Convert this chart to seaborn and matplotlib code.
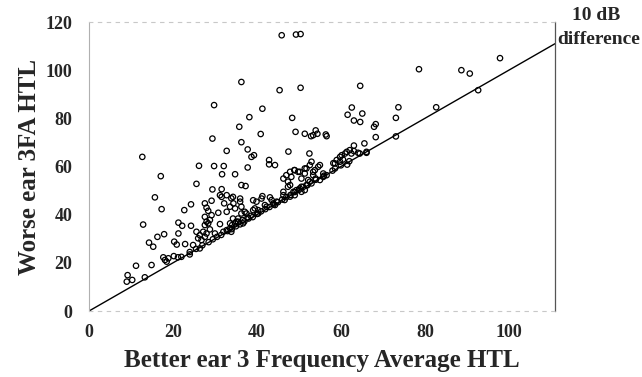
import numpy as np
import pandas as pd
import matplotlib
matplotlib.use("Agg")
import matplotlib.pyplot as plt
import seaborn as sns

# Better ear 3FA (x) and worse ear 3FA (y)
better_sparse = [12.7, 17.1, 25.6, 26.2, 29.8, 32.1, 31.7, 34.8, 29.8, 29.4, 32.8, 36.3, 35.8, 38.2,
                 41.3, 40.9, 36.3, 37.8, 39.3, 38.7, 42.9, 42.9, 37.8, 45.9, 49.3, 50.4, 45.4, 50.4,
                 48.4, 47.5, 52.5, 49.2, 51.4, 52.9, 53.4, 54.0, 54.4, 56.4, 56.6, 64.6, 62.6, 61.6,
                 65.1, 63.1, 64.6, 65.6, 63.1, 78.6, 88.7, 90.7, 97.9, 92.7, 82.7, 73.7, 73.1, 73.1,
                 68.3, 67.9, 68.3, 66.1, 64.5, 44.3]
worse_sparse = [64.0, 56.0, 52.8, 60.3, 60.2, 60.2, 56.8, 56.8, 85.5, 71.6, 66.5, 95.1, 76.5, 80.5,
                84.0, 73.5, 70.1, 67.1, 64.7, 64.0, 62.7, 60.9, 59.6, 114.5, 114.8, 115.0, 91.7, 92.7,
                80.2, 66.2, 65.4, 74.4, 73.6, 72.6, 73.0, 75.0, 73.6, 73.3, 72.6, 93.5, 84.5, 81.5,
                82.0, 79.1, 78.5, 69.6, 68.7, 100.4, 100.0, 98.6, 105.0, 91.7, 84.6, 84.6, 80.2, 72.5,
                77.6, 76.5, 72.2, 65.7, 65.4, 60.6]

better_low = [9.2, 9.0, 10.3, 13.3, 11.2, 14.9, 17.7, 18.1, 18.5, 18.9, 20.2, 21.2, 24.0, 14.3, 15.3,
              16.3, 17.9, 20.3, 20.9, 22.9, 24.8, 26.4, 21.3, 22.2, 24.3, 21.3, 12.9, 15.7, 17.3, 22.7,
              24.3, 27.6, 29.2, 28.0, 28.4, 30.8, 31.6, 29.4, 31.2, 36.3, 37.3, 31.6, 32.2, 33.9, 34.4,
              34.8, 36.0, 36.3, 36.3, 35.5, 36.6, 33.6, 32.8, 25.6, 26.4, 26.0, 26.8, 27.6, 27.2, 28.0,
              28.8, 27.6, 28.0, 28.4, 28.8, 27.6, 29.2, 31.2, 32.0, 32.8, 33.6, 34.1, 34.8, 35.5, 33.9,
              30.0, 32.8, 34.3, 36.0, 37.1, 37.5, 34.3, 35.1, 33.6, 36.7]
worse_low = [14.9, 12.2, 12.9, 14.0, 18.8, 19.1, 22.3, 21.2, 20.5, 21.9, 22.8, 22.3, 23.5, 28.4, 26.7,
             30.8, 31.9, 28.8, 27.6, 27.8, 27.4, 26.0, 36.7, 35.4, 35.4, 32.2, 35.9, 47.2, 42.3, 41.9,
             44.3, 44.7, 45.8, 42.9, 41.6, 40.8, 50.6, 50.5, 48.1, 52.3, 51.9, 47.4, 44.7, 46.8, 44.7,
             42.6, 45.4, 43.3, 40.5, 38.4, 37.8, 43.3, 41.2, 32.9, 31.5, 30.2, 29.5, 30.8, 32.9, 32.2,
             33.9, 35.7, 37.1, 36.4, 37.8, 39.1, 39.8, 36.1, 32.9, 33.6, 34.3, 35.7, 36.4, 37.1, 32.9,
             32.2, 48.1, 47.4, 46.7, 41.2, 40.5, 38.4, 37.1, 36.4, 36.4]

better_diag = [22.0, 24.0, 25.5, 27.0, 28.5, 29.5, 30.5, 31.5, 33.0, 34.0, 35.0, 36.0, 37.0, 38.0, 39.0,
               40.0, 41.0, 42.0, 43.0, 44.0, 45.0, 46.0, 47.0, 48.0, 49.0, 50.0, 51.0, 52.0, 54.0, 56.0,
               58.0, 60.0, 62.0]
worse_diag = [22.5, 24.5, 25.8, 27.3, 28.6, 29.8, 30.8, 31.6, 33.2, 34.0, 35.2, 36.0, 37.2, 38.4, 39.0,
              40.3, 41.4, 42.3, 43.2, 44.3, 45.2, 46.3, 47.3, 48.2, 49.4, 50.3, 51.5, 52.2, 54.5, 56.2,
              58.3, 60.5, 62.2]

better_mid = [39.1, 39.5, 39.9, 40.3, 41.3, 41.9, 43.1, 43.5, 43.9, 42.3, 44.3, 44.7, 41.1, 39.1, 40.3,
              38.5, 37.8, 46.3, 46.6, 47.9, 48.7, 49.0, 49.4, 50.2, 50.6, 51.4, 51.8, 47.4, 46.3, 50.6,
              52.6, 46.3, 47.0, 47.9, 48.2, 49.0, 50.2, 47.4, 47.9, 50.6, 51.4, 51.8, 52.6, 53.0, 52.2,
              53.0, 53.4, 53.8, 54.6, 55.0, 54.0, 55.0, 55.8, 56.6, 48.9, 49.8, 51.4, 53.4, 55.8, 58.6,
              59.0, 59.8, 60.2, 61.0, 61.4, 62.1, 62.5, 64.1, 66.1, 61.5, 59.8, 60.5, 58.6, 58.2, 63.1]
worse_mid = [46.0, 42.6, 45.4, 41.9, 47.7, 44.0, 47.2, 46.1, 44.7, 43.3, 44.0, 45.4, 46.7, 41.9, 40.5,
             39.5, 38.8, 49.5, 46.1, 47.5, 49.5, 48.1, 50.2, 50.9, 49.5, 50.2, 52.3, 51.6, 48.1, 51.6,
             53.7, 55.0, 56.4, 57.8, 55.7, 58.5, 57.8, 53.7, 52.3, 55.0, 57.1, 59.2, 60.6, 62.0, 54.4,
             53.0, 56.4, 58.5, 59.9, 60.6, 55.0, 54.4, 55.7, 56.4, 58.5, 57.8, 59.2, 57.8, 57.1, 61.3,
             62.7, 64.0, 64.7, 65.4, 66.1, 66.8, 65.4, 65.7, 66.1, 60.8, 62.0, 62.9, 59.2, 61.4, 66.4]

# reference line (equal thresholds)
line_x = [0, 111]
line_y = [0, 111]

x_ticks = [0, 20, 40, 60, 80, 100]
y_ticks = [0, 20, 40, 60, 80, 100, 120]

df = pd.DataFrame({
    "better": better_sparse + better_low + better_diag + better_mid,
    "worse": worse_sparse + worse_low + worse_diag + worse_mid,
})

sns.set_theme(style="white")
plt.rcParams["font.family"] = ["Liberation Serif", "DejaVu Serif"]
plt.rcParams["font.weight"] = "bold"

fig = plt.figure(figsize=(6.42, 3.77), dpi=100)
ax = fig.add_axes([0.1386, 0.175, 0.7259, 0.7666])

sns.lineplot(x=line_x, y=line_y, ax=ax, color="black", linewidth=1.0)
sns.scatterplot(data=df, x="better", y="worse", ax=ax, marker="o", s=15,
                color="white", edgecolor="black", linewidth=0.9, zorder=3)
for c in ax.collections:
    c.set_facecolor("none")

ax.set_xlim(0, 111)
ax.set_ylim(0, 120)
ax.set_xticks(x_ticks)
ax.set_yticks(y_ticks)
ax.set_xticklabels([str(v) for v in x_ticks], fontsize=13, fontweight="bold")
ax.set_yticklabels([str(v) for v in y_ticks], fontsize=13, fontweight="bold")
ax.tick_params(axis="both", length=0)
ax.tick_params(axis="x", pad=9)
ax.tick_params(axis="y", pad=12)

ax.set_xlabel("Better ear 3 Frequency Average HTL", fontsize=18, fontweight="bold", labelpad=6)
ax.set_ylabel("Worse ear 3FA HTL", fontsize=18, fontweight="bold", labelpad=3)

for side in ["top", "bottom"]:
    ax.spines[side].set_color("#c8c8c8")
    ax.spines[side].set_linewidth(0.8)
    ax.spines[side].set_linestyle((0, (3, 5)))
ax.spines["left"].set_color("#b0b0b0")
ax.spines["left"].set_linewidth(0.8)
ax.spines["right"].set_color("#555555")
ax.spines["right"].set_linewidth(0.9)

fig.text(0.928, 0.958, "10 dB", ha="center", va="center", fontsize=14, fontweight="bold")
fig.text(0.933, 0.894, "difference", ha="center", va="center", fontsize=14, fontweight="bold")

fig.savefig("out.png", dpi=100)
